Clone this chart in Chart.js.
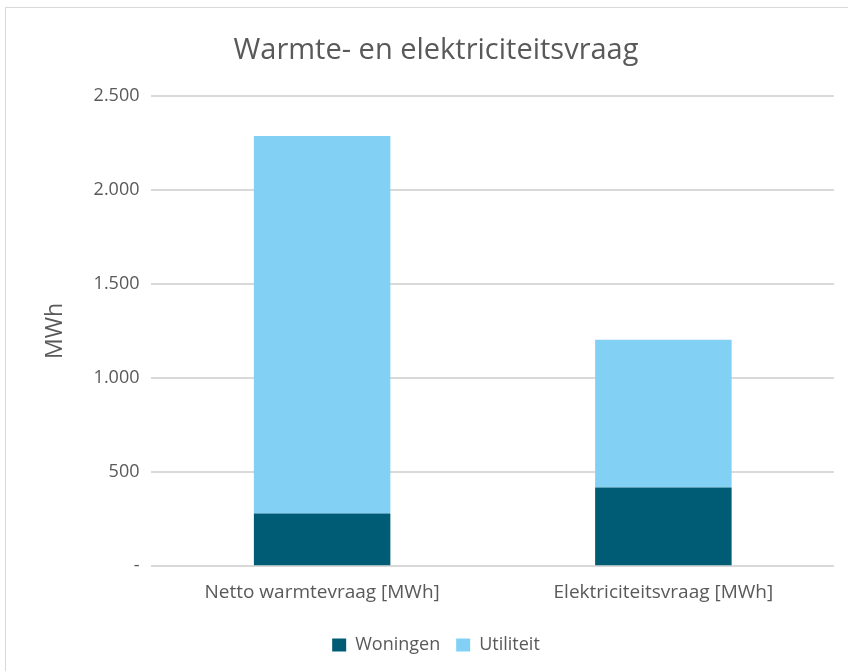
<!DOCTYPE html>
<html>
<head>
<meta charset="utf-8">
<script src="https://cdn.jsdelivr.net/npm/chart.js@4"></script>
<style>
  html, body { margin: 0; padding: 0; background: #fff; }
  #wrap {
    position: absolute; left: 5px; top: 7px;
    width: 850px; height: 666px;
    border: 1px solid #d9d9d9; box-sizing: border-box;
  }
</style>
</head>
<body>
<div id="wrap"><canvas id="myChart"></canvas></div>
<script>
const categories = ["Netto warmtevraag [MWh]", "Elektriciteitsvraag [MWh]"];
const woningen = [280, 418];
const utiliteit = [2006, 785];
const yTicks = [0, 500, 1000, 1500, 2000, 2500];

const gray = '#595959';
const font = "'Open Sans', sans-serif";

const ctx = document.getElementById('myChart');

new Chart(ctx, {
  type: 'bar',
  data: {
    labels: categories,
    datasets: [
      { label: 'Woningen', data: woningen, backgroundColor: '#005B74' },
      { label: 'Utiliteit', data: utiliteit, backgroundColor: '#83D0F5' }
    ]
  },
  options: {
    responsive: true,
    maintainAspectRatio: false,
    animation: false,
    layout: { padding: { left: 32, right: 20, top: 25, bottom: 8 } },
    datasets: { bar: { categoryPercentage: 1, barPercentage: 0.4 } },
    plugins: {
      title: {
        display: true,
        text: 'Warmte- en elektriciteitsvraag',
        color: gray,
        font: { family: font, size: 29, weight: 'normal' },
        padding: { top: 0, bottom: 28 }
      },
      legend: {
        position: 'bottom',
        labels: {
          color: gray,
          font: { family: font, size: 18 },
          boxWidth: 14,
          boxHeight: 13,
          padding: 16
        }
      },
      tooltip: { enabled: false }
    },
    scales: {
      x: {
        stacked: true,
        grid: { display: false },
        border: { display: false },
        afterFit: axis => { axis.height += 9; },
        ticks: { color: gray, font: { family: font, size: 19 }, padding: 7 }
      },
      y: {
        stacked: true,
        min: 0,
        max: 2500,
        afterBuildTicks: axis => { axis.ticks = yTicks.map(v => ({ value: v })); },
        grid: { color: '#d9d9d9', lineWidth: 2, drawTicks: false },
        border: { display: false },
        title: {
          display: true,
          text: 'MWh',
          color: gray,
          font: { family: font, size: 23 },
          padding: { bottom: 12 }
        },
        ticks: {
          color: gray,
          font: { family: font, size: 18 },
          padding: 12,
          callback: v => v === 0 ? '-' : v.toLocaleString('nl-NL')
        }
      }
    }
  }
});
</script>
</body>
</html>
